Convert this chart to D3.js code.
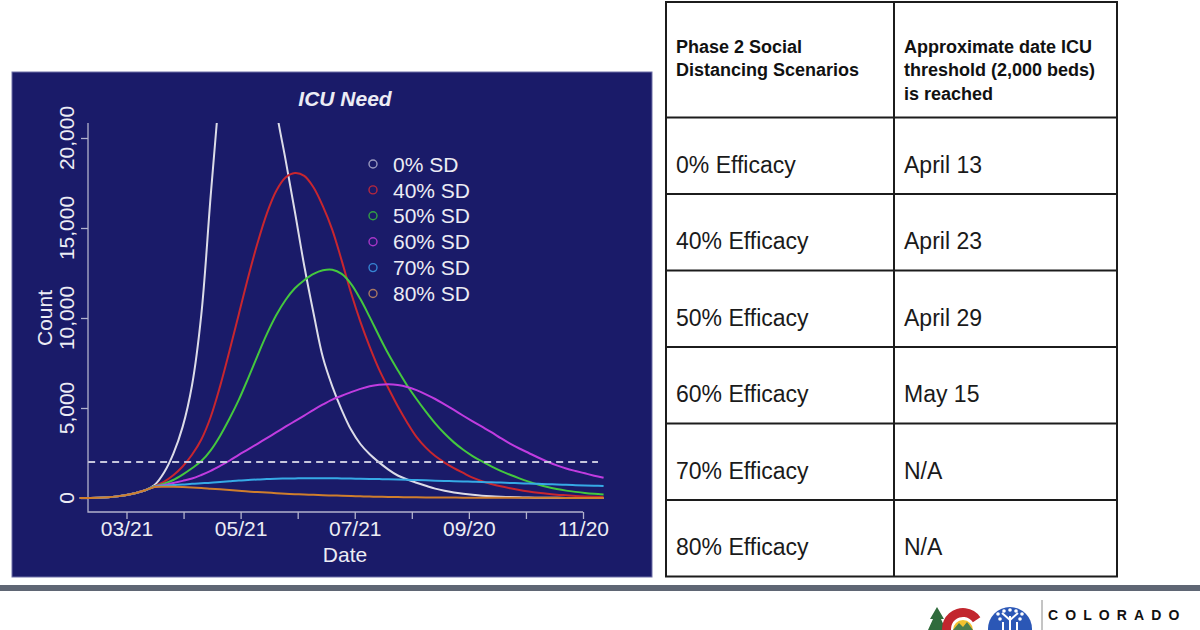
<!DOCTYPE html>
<html>
<head>
<meta charset="utf-8">
<script src="https://cdn.jsdelivr.net/npm/d3@7"></script>
<style>
  html, body { margin: 0; padding: 0; background: #fff; }
  svg { display: block; font-family: "Liberation Sans", Arial, sans-serif; }
</style>
</head>
<body>
<svg id="slide" width="1200" height="630"></svg>
<script>
// days counted from 03/21
const days = [-25,-20,-15,-10,-5,0,5,10,15,20,25,30,35,40,45,50,55,60,65,70,75,80,85,90,95,100,105,110,115,120,125,130,135,140,145,150,155,160,165,170,175,180,185,190,195,200,205,210,215,220,225,230,235,240,245,250,255];

const sd0  = [0,5,15,40,90,170,280,430, 720,1400,2450,3950,6250,10200,16800,23000,28500,31500,31500,29000,25500,21600,18800,15900,12900,10250,7800,6200,4900,3800,3000,2430,1980,1580,1250,1030,850,680,520,400,310,240,180,130,95,70,50,35,25,18,12,9,6,4,3,2,1];
const sd40 = [0,5,15,40,90,170,280,430, 660,900,1260,1750,2400,3250,4500,6200,8150,10200,12250,14150,15800,17050,17800,18050,17900,17250,16200,14900,13200,11400,9800,8400,7150,6100,5100,4200,3400,2800,2330,1970,1660,1390,1130,930,780,650,540,440,360,290,230,185,150,115,90,70,55];
const sd50 = [0,5,15,40,90,170,280,430, 650,800,1000,1300,1650,2050,2650,3450,4400,5450,6650,7900,9100,10150,11000,11650,12100,12450,12650,12680,12450,11900,11050,10050,9000,8000,7100,6250,5500,4800,4150,3580,3090,2680,2330,2030,1760,1510,1290,1090,910,750,610,500,410,340,280,235,200];
const sd60 = [0,5,15,40,90,170,280,430, 630,720,830,950,1080,1280,1510,1780,2070,2400,2700,3010,3330,3640,3960,4270,4580,4900,5200,5470,5680,5880,6060,6210,6290,6320,6280,6170,5990,5760,5500,5200,4890,4570,4260,3960,3660,3330,3020,2750,2500,2250,2020,1810,1640,1500,1370,1240,1120];
const sd70 = [0,5,15,40,90,170,280,430, 620,680,720,750,790,820,850,890,930,970,1000,1030,1050,1070,1080,1090,1100,1100,1100,1095,1090,1080,1070,1060,1050,1040,1025,1010,995,980,965,950,935,920,905,890,870,855,835,820,800,785,765,750,730,715,700,685,670];
const sd80 = [0,5,15,40,90,170,280,430, 610,620,620,610,590,560,520,480,440,400,360,330,300,270,240,215,195,175,155,140,125,110,95,80,70,60,52,45,38,32,28,25,22,19,17,15,13,12,11,10,9,8,7,7,6,6,5,5,4];

const scenarios = ["0% SD", "40% SD", "50% SD", "60% SD", "70% SD", "80% SD"];
const seriesValues = [sd0, sd40, sd50, sd60, sd70, sd80];
const lineColors = ["#dcdce8", "#c8262f", "#44c83e", "#c03ce0", "#36aae6", "#d07e2c"];
const keyColors  = ["#9a9abf", "#b8283e", "#33a043", "#a836c8", "#3684d2", "#a87862"];

const yTicks = [0, 5000, 10000, 15000, 20000];
const xTickDates = ["2020-03-21", "2020-04-20T12:00Z", "2020-05-21", "2020-06-20T12:00Z", "2020-07-21",
                    "2020-08-20T12:00Z", "2020-09-20", "2020-10-20T12:00Z", "2020-11-20"];
const xTickLabels = ["03/21", "", "05/21", "", "07/21", "", "09/20", "", "11/20"];
const threshold = 2000;
const thresholdSpan = ["2020-02-29T12:00Z", "2020-11-28"];

const headerCol1 = ["Phase 2 Social", "Distancing Scenarios"];
const headerCol2 = ["Approximate date ICU", "threshold (2,000 beds)", "is reached"];
const efficacy = ["0% Efficacy", "40% Efficacy", "50% Efficacy", "60% Efficacy", "70% Efficacy", "80% Efficacy"];
const thresholdDates = ["April 13", "April 23", "April 29", "May 15", "N/A", "N/A"];

const svg = d3.select("#slide");
const origin = new Date("2020-03-21");

//chart panel
svg.append("rect")
    .attr("x", 12).attr("y", 72)
    .attr("width", 640).attr("height", 505)
    .attr("fill", "#1a1b69")
    .attr("stroke", "#6f70a8").attr("stroke-width", 1);

const plotLeft = 88, plotBottom = 512;
const x = d3.scaleUtc()
    .domain([new Date("2020-03-21"), new Date("2020-11-20")])
    .range([126.5, 583]);
const y = d3.scaleLinear()
    .domain([0, 20833])
    .range([498, 123]);

svg.append("defs").append("clipPath").attr("id", "plotClip")
    .append("rect")
    .attr("x", 20).attr("y", y.range()[1])
    .attr("width", 620).attr("height", plotBottom - y.range()[1]);

//axes
const axisColor = "#b2b2cc";
const textColor = "#ececf4";

const xAxis = svg.append("g")
    .attr("transform", `translate(0,${plotBottom})`)
    .call(d3.axisBottom(x)
        .tickValues(xTickDates.map(d => new Date(d)))
        .tickSize(7)
        .tickFormat((d, i) => xTickLabels[i]));
xAxis.select(".domain").remove();
xAxis.selectAll("line").attr("stroke", axisColor).attr("stroke-width", 1.3);
xAxis.selectAll("text")
    .attr("y", 24).attr("dy", null)
    .attr("fill", textColor)
    .style("font-size", "21px");

const yAxis = svg.append("g")
    .attr("transform", `translate(${plotLeft},0)`)
    .call(d3.axisLeft(y).tickValues(yTicks).tickSize(7).tickFormat(""));
yAxis.select(".domain").remove();
yAxis.selectAll("line").attr("stroke", axisColor).attr("stroke-width", 1.3);

svg.append("g").selectAll("text")
    .data(yTicks)
    .join("text")
    .attr("transform", d => `translate(73.5,${y(d)}) rotate(-90)`)
    .attr("text-anchor", "middle")
    .attr("fill", textColor)
    .style("font-size", "21px")
    .text(d => d3.format(",")(d));

svg.append("path")
    .attr("d", `M${plotLeft},${y.range()[1]}V${plotBottom}H${x.range()[1]}`)
    .attr("fill", "none")
    .attr("stroke", axisColor)
    .attr("stroke-width", 1.3);

//titles
svg.append("text")
    .attr("x", 345).attr("y", 106)
    .attr("text-anchor", "middle")
    .attr("fill", textColor)
    .attr("font-weight", "bold")
    .attr("font-style", "italic")
    .style("font-size", "21px")
    .text("ICU Need");
svg.append("text")
    .attr("x", 345).attr("y", 562)
    .attr("text-anchor", "middle")
    .attr("fill", textColor)
    .style("font-size", "21px")
    .text("Date");
svg.append("text")
    .attr("transform", "translate(52,318) rotate(-90)")
    .attr("text-anchor", "middle")
    .attr("fill", textColor)
    .style("font-size", "21px")
    .text("Count");

//lines
const line = d3.line()
    .x((d, i) => x(d3.utcDay.offset(origin, days[i])))
    .y(d => y(d))
    .curve(d3.curveCatmullRom.alpha(0.5));

svg.append("g")
    .attr("clip-path", "url(#plotClip)")
    .selectAll("path")
    .data(seriesValues)
    .join("path")
    .attr("d", d => line(d))
    .attr("fill", "none")
    .attr("stroke", (d, i) => lineColors[i])
    .attr("stroke-width", 2)
    .attr("stroke-linejoin", "round");

//2,000 bed threshold
svg.append("line")
    .attr("x1", x(new Date(thresholdSpan[0])))
    .attr("x2", x(new Date(thresholdSpan[1])))
    .attr("y1", y(threshold)).attr("y2", y(threshold))
    .attr("stroke", "#c6c6dc")
    .attr("stroke-width", 2)
    .attr("stroke-dasharray", "7,5");

//legend
const legend = svg.append("g").selectAll("g")
    .data(scenarios)
    .join("g")
    .attr("transform", (d, i) => `translate(373,${164 + i * 25.9})`);
legend.append("circle")
    .attr("r", 4)
    .attr("fill", "none")
    .attr("stroke", (d, i) => keyColors[i])
    .attr("stroke-width", 1.4);
legend.append("text")
    .attr("x", 20).attr("y", 7.6)
    .attr("fill", textColor)
    .style("font-size", "21px")
    .text(d => d);

//table
const tbl = {left: 666, mid: 894, right: 1117, top: 2, headerH: 115.5, rowH: 76.5};
const tableBottom = tbl.top + tbl.headerH + efficacy.length * tbl.rowH;
const tableG = svg.append("g");
const rowLines = [tbl.top].concat(d3.range(efficacy.length + 1).map(i => tbl.top + tbl.headerH + i * tbl.rowH));
tableG.selectAll("line.h")
    .data(rowLines)
    .join("line")
    .attr("class", "h")
    .attr("x1", tbl.left - 1).attr("x2", tbl.right + 1)
    .attr("y1", d => d).attr("y2", d => d)
    .attr("stroke", "#1c1c1c").attr("stroke-width", 2);
tableG.selectAll("line.v")
    .data([tbl.left, tbl.mid, tbl.right])
    .join("line")
    .attr("class", "v")
    .attr("x1", d => d).attr("x2", d => d)
    .attr("y1", tbl.top).attr("y2", tableBottom)
    .attr("stroke", "#1c1c1c").attr("stroke-width", 2);

tableG.selectAll("text.h1")
    .data(headerCol1)
    .join("text")
    .attr("class", "h1")
    .attr("x", tbl.left + 10).attr("y", (d, i) => 53 + i * 23.3)
    .attr("font-weight", "bold").style("font-size", "18px").attr("fill", "#111")
    .text(d => d);
tableG.selectAll("text.h2")
    .data(headerCol2)
    .join("text")
    .attr("class", "h2")
    .attr("x", tbl.mid + 10).attr("y", (d, i) => 53 + i * 23.3)
    .attr("font-weight", "bold").style("font-size", "18px").attr("fill", "#111")
    .text(d => d);
tableG.selectAll("text.c1")
    .data(efficacy)
    .join("text")
    .attr("class", "c1")
    .attr("x", tbl.left + 10)
    .attr("y", (d, i) => tbl.top + tbl.headerH + i * tbl.rowH + 55)
    .style("font-size", "23px").attr("fill", "#1a1a1a")
    .text(d => d);
tableG.selectAll("text.c2")
    .data(thresholdDates)
    .join("text")
    .attr("class", "c2")
    .attr("x", tbl.mid + 10)
    .attr("y", (d, i) => tbl.top + tbl.headerH + i * tbl.rowH + 55)
    .style("font-size", "23px").attr("fill", "#1a1a1a")
    .text(d => d);

//footer bar
svg.append("rect")
    .attr("x", 0).attr("y", 585)
    .attr("width", 1200).attr("height", 6)
    .attr("fill", "#5f6674");

//logo
const logo = svg.append("g");
logo.append("path")
    .attr("d", "M937,607 L944,619 L941,619 L946,630 L928,630 L933,619 L930,619 Z")
    .attr("fill", "#2f6b3c");
logo.append("path")
    .attr("transform", "translate(963,629)")
    .attr("d", d3.arc().innerRadius(12).outerRadius(21)
        .startAngle(Math.PI / 2 + 0.6).endAngle(Math.PI * 2.5 - 0.6)())
    .attr("fill", "#c2262e");
logo.append("circle")
    .attr("cx", 963).attr("cy", 630).attr("r", 10)
    .attr("fill", "#f2c12e");
logo.append("path")
    .attr("d", "M953,630 L959,623 L963,627 L967,622 L973,630 Z")
    .attr("fill", "#4a7d4c");
logo.append("circle")
    .attr("cx", 1010).attr("cy", 629).attr("r", 22)
    .attr("fill", "#2b57b6");
logo.append("path")
    .attr("d", "M1010,630 V616 M1010,620 L1002,613 M1010,620 L1018,613 M1003,630 V622 M1017,630 V622")
    .attr("stroke", "#fff").attr("stroke-width", 2).attr("fill", "none");
logo.selectAll("circle.dot")
    .data([[998, 614], [1004, 611], [1010, 610], [1016, 611], [1022, 614], [1000, 619], [1020, 619]])
    .join("circle")
    .attr("class", "dot")
    .attr("cx", d => d[0]).attr("cy", d => d[1]).attr("r", 1.8)
    .attr("fill", "#fff");
logo.append("line")
    .attr("x1", 1042).attr("x2", 1042).attr("y1", 600).attr("y2", 630)
    .attr("stroke", "#8a8a8a").attr("stroke-width", 1);
logo.append("text")
    .attr("x", 1048).attr("y", 620)
    .attr("font-weight", "900")
    .style("font-size", "14px")
    .style("letter-spacing", "7.1px")
    .attr("fill", "#111")
    .text("COLORADO");
</script>
</body>
</html>
